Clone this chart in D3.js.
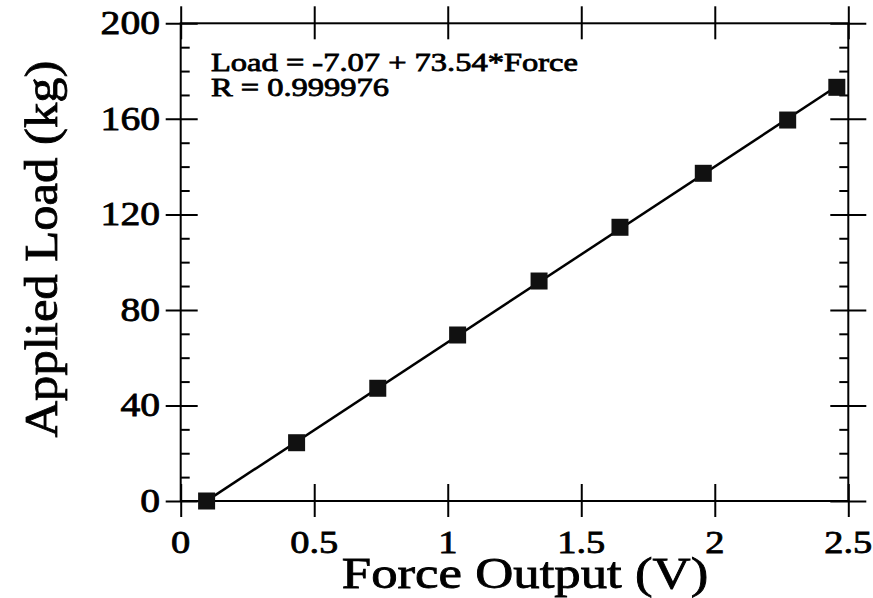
<!DOCTYPE html>
<html>
<head>
<meta charset="utf-8">
<script src="https://cdn.jsdelivr.net/npm/d3@7"></script>
<style>
  body { margin: 0; background: #fff; }
  svg { display: block; }
  text { font-family: "Liberation Serif", "Times New Roman", serif; fill: #000; }
</style>
</head>
<body>
<div id="chart"></div>
<script>
// calibration points
var forceOutput = [0.097, 0.434, 0.738, 1.037, 1.342, 1.645, 1.957, 2.273, 2.457];
var appliedLoad = [0, 24.4, 47.2, 69.5, 92.1, 114.6, 137.2, 159.5, 173.2];

// linear fit shown on the plot
var fitIntercept = -7.07;
var fitSlope = 73.54;
var fitText = ["Load = -7.07 + 73.54*Force", "R = 0.999976"];

var xTicks = [0, 0.5, 1, 1.5, 2, 2.5];
var xTickLabels = ["0", "0.5", "1", "1.5", "2", "2.5"];
var yTicks = [0, 40, 80, 120, 160, 200];
var yMinorTicks = [10, 20, 30, 50, 60, 70, 90, 100, 110, 130, 140, 150, 170, 180, 190];

var width = 873, height = 598;
var stretch = 1.2; // the scan is wider than plain Times

var svg = d3.select("#chart").append("svg")
	.attr("width", width)
	.attr("height", height);

var x = d3.scaleLinear().domain([0, 2.5]).range([180.7, 848.3]);
var y = d3.scaleLinear().domain([0, 200]).range([501, 23.3]);

// stretched text helper, anchored at (px, py)
function addText(px, py, str, size, anchor, sx) {
	return svg.append("text")
		.attr("transform", "translate(" + px + "," + py + ") scale(" + (sx || stretch) + ",1)")
		.attr("text-anchor", anchor)
		.style("font-size", size + "px")
		.style("stroke", "#000")
		.style("stroke-width", "0.8")
		.text(str);
}

// frame
svg.append("rect")
	.attr("x", x(0)).attr("y", y(200))
	.attr("width", x(2.5) - x(0)).attr("height", y(0) - y(200))
	.attr("fill", "none").attr("stroke", "#000").attr("stroke-width", 2);

// major ticks crossing the frame
var axBottom = svg.append("g").attr("transform", "translate(0," + y(0) + ")")
	.call(d3.axisBottom(x).tickValues(xTicks).tickSize(16).tickFormat(""));
axBottom.selectAll(".tick line").attr("y1", -17);
var axTop = svg.append("g").attr("transform", "translate(0," + y(200) + ")")
	.call(d3.axisTop(x).tickValues(xTicks).tickSize(17).tickFormat(""));
axTop.selectAll(".tick line").attr("y1", 16);
var axLeft = svg.append("g").attr("transform", "translate(" + x(0) + ",0)")
	.call(d3.axisLeft(y).tickValues(yTicks).tickSize(15).tickFormat(""));
axLeft.selectAll(".tick line").attr("x1", 17);
var axRight = svg.append("g").attr("transform", "translate(" + x(2.5) + ",0)")
	.call(d3.axisRight(y).tickValues(yTicks).tickSize(18).tickFormat(""));
axRight.selectAll(".tick line").attr("x1", -18);

// minor ticks, inside only
var leftMinor = svg.append("g").attr("transform", "translate(" + x(0) + ",0)")
	.call(d3.axisRight(y).tickValues(yMinorTicks).tickSize(9).tickFormat(""));
var rightMinor = svg.append("g").attr("transform", "translate(" + x(2.5) + ",0)")
	.call(d3.axisLeft(y).tickValues(yMinorTicks).tickSize(9).tickFormat(""));

[axBottom, axTop, axLeft, axRight, leftMinor, rightMinor].forEach(function(g){
	g.select(".domain").remove();
	g.selectAll(".tick line").attr("stroke", "#000").attr("stroke-width", 2);
});

// tick labels
xTicks.forEach(function(v, i){
	addText(x(v), 553, xTickLabels[i], 32, "middle");
});
yTicks.forEach(function(v){
	addText(160, y(v) + 11, String(v), 33, "end");
});

// fit line
var fx = d3.extent(forceOutput);
svg.append("line")
	.attr("x1", x(fx[0])).attr("y1", y(fitIntercept + fitSlope * fx[0]))
	.attr("x2", x(fx[1])).attr("y2", y(fitIntercept + fitSlope * fx[1]))
	.attr("stroke", "#000").attr("stroke-width", 2.5);

// data squares
var sq = 17;
svg.selectAll("rect.pt")
	.data(forceOutput)
	.enter().append("rect")
	.attr("class", "pt")
	.attr("x", function(d){ return x(d) - sq / 2; })
	.attr("y", function(d, i){ return y(appliedLoad[i]) - sq / 2; })
	.attr("width", sq).attr("height", sq)
	.attr("fill", "#111");

// fit annotation
addText(211, 71, fitText[0], 26, "start", 1.25);
addText(211, 96, fitText[1], 26, "start", 1.25);

// axis titles
addText(525, 588, "Force Output (V)", 44, "middle");
svg.append("text")
	.attr("transform", "translate(57,249) rotate(-90)")
	.attr("text-anchor", "middle")
	.attr("textLength", 377)
	.attr("lengthAdjust", "spacingAndGlyphs")
	.style("font-size", "46px")
	.style("stroke", "#000")
	.style("stroke-width", "0.8")
	.text("Applied Load (kg)");
</script>
</body>
</html>
